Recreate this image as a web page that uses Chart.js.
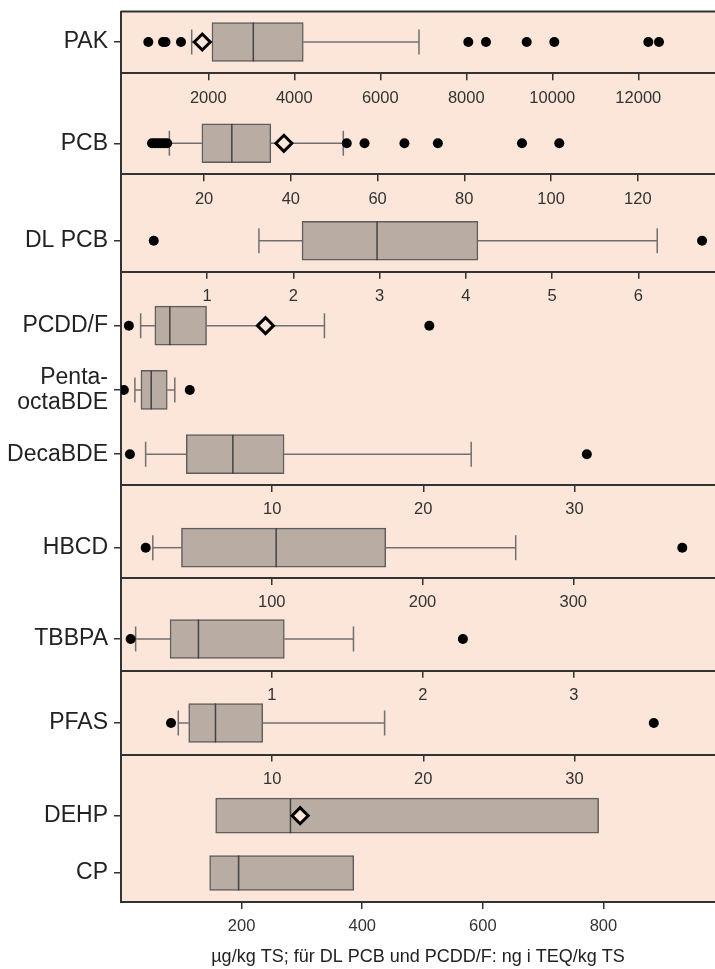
<!DOCTYPE html>
<html><head><meta charset="utf-8">
<script src="https://cdn.jsdelivr.net/npm/chart.js@4/dist/chart.umd.min.js"></script>
<style>
html,body{margin:0;padding:0;background:#fff;}
#wrap{position:relative;width:715px;height:969px;overflow:hidden;}
#wrap canvas{position:absolute;left:0;top:0;}
</style></head><body><div id="wrap"></div>
<script>
// ---------- data ----------
const categories  = ['PAK','PCB','DL PCB','PCDD/F','Penta-\noctaBDE','DecaBDE','HBCD','TBBPA','PFAS','DEHP','CP'];
const panelOfCategory = [0,1,2,3,3,3,4,5,6,7,7];
const whiskerLow  = [1614, 12.0, 1.60, 1.30, 0.92, 1.63, 21.1, 0.097, 3.79, null, null];
const q1          = [2086, 19.5, 2.10, 2.24, 1.32, 4.32, 40.1, 0.325, 4.48, 157, 147];
const median      = [3047, 26.4, 2.97, 3.23, 2.00, 7.40, 102.9, 0.513, 6.25, 281, 195];
const q3          = [4209, 35.4, 4.14, 5.66, 3.06, 10.79, 175.6, 1.082, 9.38, 792, 386];
const whiskerHigh = [6900, 52.1, 6.22, 13.46, 3.56, 23.17, 261.8, 1.54, 17.44, null, null];
const mean        = [1860, 38.4, null, 9.56, null, null, null, null, null, 297, null];
const outliers = [
  [605, 947, 1005, 1365, 8047, 8458, 9405, 10047, 12233, 12481],
  [8.0, 8.7, 9.4, 10.1, 10.8, 11.5, 52.9, 57.0, 66.2, 73.9, 93.3, 101.9],
  [0.38, 6.74],
  [0.52, 20.4],
  [0.19, 4.55],
  [0.59, 30.82],
  [16.4, 372.3],
  [0.064, 2.265],
  [3.31, 35.25],
  [],
  []
];
const axisTicks = [
  [2000,4000,6000,8000,10000,12000],
  [20,40,60,80,100,120],
  [1,2,3,4,5,6],
  [10,20,30],
  [100,200,300],
  [1,2,3],
  [10,20,30],
  [200,400,600,800]
];
const axisMin = [-30, 0.85, 0, 0, 0, 0, 0, 0];
const axisMax = [13784, 137.8, 6.89, 39.3, 394, 3.935, 39.3, 985];
const axisTitle = 'µg/kg TS; für DL PCB und PCDD/F: ng i TEQ/kg TS';

// ---------- layout / style ----------
const W = 715, H = 969;
const panelTop    = [11.5, 73.3, 174.3, 271.7, 485, 578, 670.7, 754.5];
const panelBottom = [73.3, 174.3, 271.7, 485, 578, 670.7, 754.5, 902];
const yMin = [-0.4935, -0.693, -0.682, -0.84, -0.674, -0.658, -0.624, -1.068];
const yMax = [ 0.5065,  0.307,  0.318,  2.48,  0.326,  0.342,  0.376,  1.506];
const FONT = "'Liberation Sans', Arial, Helvetica, sans-serif";
const BG = '#fbe6d9', BOX = '#b8aca3', BOXLINE = '#5e5e5e', WHISK = '#707070', AXIS = '#333333';

const panelBg = {
  id: 'panelBg',
  beforeDraw(chart, args, opts) {
    const {ctx, chartArea: a} = chart;
    ctx.save();
    ctx.fillStyle = BG;
    ctx.fillRect(a.left, a.top, a.right - a.left, a.bottom - a.top);
    if (opts.topLine) {
      ctx.strokeStyle = AXIS; ctx.lineWidth = 2;
      ctx.beginPath(); ctx.moveTo(a.left, a.top); ctx.lineTo(a.right, a.top); ctx.stroke();
    }
    ctx.restore();
  }
};

const wrap = document.getElementById('wrap');
const nPanels = axisTicks.length;
for (let p = 0; p < nPanels; p++) {
  const cats = [];
  panelOfCategory.forEach((pp, c) => { if (pp === p) cats.push(c); });
  const last = p === nPanels - 1;
  const boxH = last ? 35 : 39;
  const xAxisH = last ? 67 : 30;

  const datasets = [];
  datasets.push({
    type: 'bar',
    data: cats.map((c, j) => ({y: j, x: [q1[c], q3[c]]})),
    backgroundColor: BOX, borderColor: BOXLINE, borderWidth: 1.5,
    borderSkipped: false, barThickness: boxH, order: 6
  });
  const caps = [];
  cats.forEach((c, j) => {
    if (whiskerLow[c] !== null) {
      datasets.push({type: 'line', data: [{x: whiskerLow[c], y: j}, {x: q1[c], y: j}],
        borderColor: WHISK, borderWidth: 1.5, pointRadius: 0, order: 5});
      caps.push({x: whiskerLow[c], y: j});
    }
    if (whiskerHigh[c] !== null) {
      datasets.push({type: 'line', data: [{x: q3[c], y: j}, {x: whiskerHigh[c], y: j}],
        borderColor: WHISK, borderWidth: 1.5, pointRadius: 0, order: 5});
      caps.push({x: whiskerHigh[c], y: j});
    }
  });
  datasets.push({type: 'scatter', data: caps, pointStyle: 'line', pointRotation: 90,
    pointRadius: 12.5, pointBorderColor: WHISK, pointBorderWidth: 1.5, order: 4});
  datasets.push({type: 'scatter', data: cats.map((c, j) => ({x: median[c], y: j})),
    pointStyle: 'line', pointRotation: 90, pointRadius: boxH / 2,
    pointBorderColor: '#444', pointBorderWidth: 1.5, order: 3});
  const outPts = [];
  cats.forEach((c, j) => outliers[c].forEach(v => outPts.push({x: v, y: j})));
  datasets.push({type: 'scatter', data: outPts, pointStyle: 'circle', pointRadius: 5,
    pointBackgroundColor: '#000', pointBorderColor: '#000', pointBorderWidth: 0, order: 2});
  const meanPts = [];
  cats.forEach((c, j) => { if (mean[c] !== null) meanPts.push({x: mean[c], y: j}); });
  datasets.push({type: 'scatter', data: meanPts, pointStyle: 'rectRot', pointRadius: 8,
    pointBackgroundColor: BG, pointBorderColor: '#000', pointBorderWidth: 3, order: 1});

  const cv = document.createElement('canvas');
  cv.width = W; cv.height = H;
  cv.style.zIndex = String(50 - p);
  wrap.appendChild(cv);

  const zeroPad = s => { s.paddingLeft = 0; s.paddingRight = 0; s.paddingTop = 0; s.paddingBottom = 0; };

  new Chart(cv, {
    type: 'bar',
    data: {datasets},
    plugins: [panelBg],
    options: {
      indexAxis: 'y',
      responsive: false,
      devicePixelRatio: 1,
      animation: false,
      events: [],
      layout: {autoPadding: false,
               padding: {top: panelTop[p], bottom: H - panelBottom[p] - xAxisH, left: 0, right: 0}},
      plugins: {legend: {display: false}, tooltip: {enabled: false}, panelBg: {topLine: p === 0}},
      scales: {
        x: {
          type: 'linear', position: 'bottom', min: axisMin[p], max: axisMax[p], offset: false,
          afterBuildTicks: s => { s.ticks = axisTicks[p].map(v => ({value: v})); },
          afterFit: s => { s.height = xAxisH; zeroPad(s); },
          grid: {offset: false, drawOnChartArea: false, drawTicks: true, tickLength: 7, color: AXIS, lineWidth: 1.5},
          border: {display: true, color: AXIS, width: 2},
          ticks: {font: {family: FONT, size: 16.5}, color: '#333', padding: 8,
                  maxRotation: 0, autoSkip: false, callback: v => String(v)},
          title: {display: last, text: axisTitle, font: {family: FONT, size: 18}, color: '#222',
                  padding: {top: 0, bottom: 1}}
        },
        y: {
          type: 'linear', reverse: true, min: yMin[p], max: yMax[p], offset: false,
          afterBuildTicks: s => { s.ticks = cats.map((c, j) => ({value: j})); },
          afterFit: s => { s.width = 121; zeroPad(s); },
          grid: {offset: false, drawOnChartArea: false, drawTicks: true, tickLength: 7, color: AXIS, lineWidth: 1.5},
          border: {display: true, color: AXIS, width: 2},
          ticks: {font: {family: FONT, size: 23, lineHeight: 1.1}, color: '#222', padding: 6,
                  autoSkip: false, callback: v => categories[cats[v]].split('\n')}
        }
      }
    }
  });
}
</script>
</body></html>
